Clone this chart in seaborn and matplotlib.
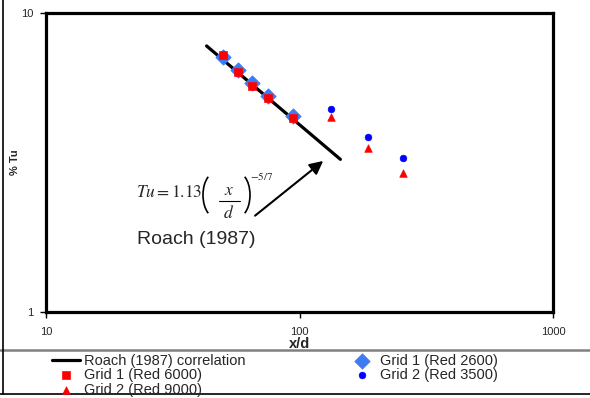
import numpy as np
import pandas as pd
import seaborn as sns
import matplotlib.pyplot as plt
from matplotlib.lines import Line2D
from matplotlib.patches import Arc

# values
roach_xd = [43, 145]
roach_tu = [7.76, 3.24]

g1_2600_xd = [50, 57, 65, 75, 94]
g1_2600_tu = [7.13, 6.45, 5.83, 5.28, 4.52]

g1_6000_xd = [50, 57, 65, 75, 94]
g1_6000_tu = [7.24, 6.35, 5.70, 5.20, 4.45]

g2_3500_xd = [133, 186, 256]
g2_3500_tu = [4.77, 3.85, 3.27]

g2_9000_xd = [133, 186, 256]
g2_9000_tu = [4.49, 3.54, 2.92]

sns.set_style('white')
plt.rcParams['font.family'] = ['Liberation Sans', 'DejaVu Sans']
plt.rcParams['mathtext.fontset'] = 'stix'

W, H = 590, 398
fig = plt.figure(figsize=(W / 100, H / 100), dpi=100)
ax = fig.add_axes([46 / W, 1 - 312 / H, 507 / W, 299 / H])

def px(x, y):
    # pixel position (from top-left) -> figure fraction
    return x / W, 1 - y / H

sns.lineplot(x=roach_xd, y=roach_tu, ax=ax, color='black', linewidth=2.3,
             label='Roach (1987) correlation')
sns.scatterplot(x=g1_2600_xd, y=g1_2600_tu, ax=ax, marker='D', s=60,
                color='#3d7bf2', edgecolor='#3d7bf2', label='Grid 1 (Red 2600)', zorder=3)
sns.scatterplot(x=g1_6000_xd, y=g1_6000_tu, ax=ax, marker='s', s=32,
                color='#ff0000', edgecolor='#ff0000', label='Grid 1 (Red 6000)', zorder=4)
sns.scatterplot(x=g2_3500_xd, y=g2_3500_tu, ax=ax, marker='o', s=24,
                color='#0000ff', edgecolor='#0000ff', label='Grid 2 (Red 3500)', zorder=4)
sns.scatterplot(x=g2_9000_xd, y=g2_9000_tu, ax=ax, marker='^', s=30,
                color='#ff0000', edgecolor='#ff0000', label='Grid 2 (Red 9000)', zorder=4)

ax.set_xscale('log')
ax.set_yscale('log')
ax.set_xlim(10, 1000)
ax.set_ylim(1, 10)
ax.set_xticks([10, 100, 1000])
ax.set_xticklabels(['10', '100', '1000'])
ax.set_yticks([1, 10])
ax.set_yticklabels(['1', '10'])
ax.minorticks_off()
ax.tick_params(axis='both', direction='out', length=4, width=1, labelsize=8,
               color='black', left=True, bottom=True)
ax.tick_params(axis='y', pad=5)
ax.tick_params(axis='x', pad=7)
for sp in ax.spines.values():
    sp.set_linewidth(2.3)
    sp.set_color('black')

ax.set_xlabel('x/d', fontsize=10.5, fontweight='bold', labelpad=0)
ax.set_ylabel('% Tu', fontsize=8, fontweight='bold', labelpad=1)

# correlation formula, built piece by piece
fs = 12.5
fig.text(*px(136, 197), r'$Tu = 1.13$', fontsize=fs, ha='left', va='baseline')
# thin parentheses drawn as arcs (pixel sizes converted to figure fraction)
fig.add_artist(Arc(px(215, 195), 24 / W, 44 / H, theta1=104, theta2=256,
                   transform=fig.transFigure, color='black', linewidth=1.2))
fig.add_artist(Arc(px(238, 195), 24 / W, 44 / H, theta1=-76, theta2=76,
                   transform=fig.transFigure, color='black', linewidth=1.2))
fig.text(*px(229, 198), r'$x$', fontsize=fs, ha='center', va='bottom')
fig.add_artist(Line2D([219 / W, 240 / W], [1 - 201 / H, 1 - 201 / H],
                      transform=fig.transFigure, color='black', linewidth=0.8))
fig.text(*px(229, 204), r'$d$', fontsize=fs, ha='center', va='top')
fig.text(*px(250, 176), r'$-5/7$', fontsize=8, ha='left', va='center')

fig.text(*px(137, 239), 'Roach (1987)', fontsize=14, ha='left', va='center')
ax.annotate('', xy=(124, 3.2), xytext=(66.8, 2.1),
            arrowprops=dict(arrowstyle='-|>', color='black', lw=1.5,
                            mutation_scale=20, shrinkA=0, shrinkB=0))

# legend below the plot
h, l = ax.get_legend_handles_labels()
ax.get_legend().remove()
order = ['Roach (1987) correlation', 'Grid 1 (Red 6000)', 'Grid 2 (Red 9000)',
         'Grid 1 (Red 2600)', 'Grid 2 (Red 3500)']
hmap = dict(zip(l, h))
fig.legend([hmap[k] for k in order], order, loc='upper left',
           bbox_to_anchor=px(52, 354), ncol=2, frameon=False, fontsize=10.5,
           borderpad=0, borderaxespad=0, labelspacing=0.02, handlelength=1.9,
           handletextpad=0.3, columnspacing=7.0)

# figure separators / frame
fig.add_artist(Line2D([0, 1], [1 - 350 / H] * 2, transform=fig.transFigure,
                      color='#808080', linewidth=1.8))
fig.add_artist(Line2D([0, 1], [1 - 394 / H] * 2, transform=fig.transFigure,
                      color='black', linewidth=1.2))
fig.add_artist(Line2D([2.5 / W] * 2, [1 - 394 / H, 1], transform=fig.transFigure,
                      color='black', linewidth=1.2))

fig.savefig('out.png', dpi=100)
